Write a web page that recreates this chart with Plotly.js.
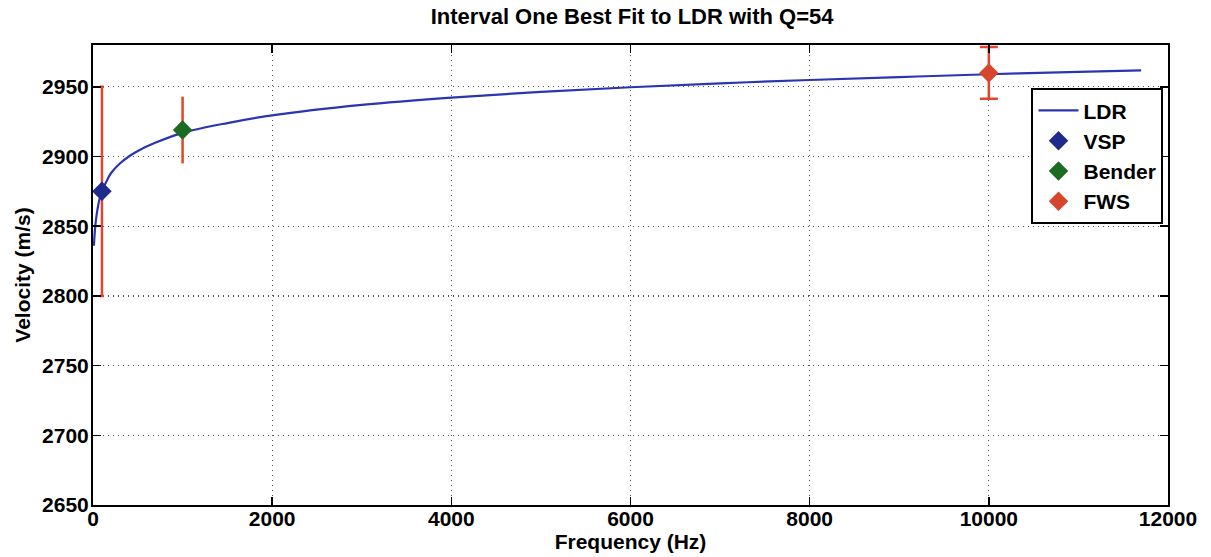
<!DOCTYPE html>
<html>
<head>
<meta charset="utf-8">
<script src="https://cdn.plot.ly/plotly-3.0.1.min.js"></script>
<style>html,body{margin:0;padding:0;background:#fff;}#chart{width:1211px;height:557px;}</style>
</head>
<body>
<div id="chart"></div>
<script>
// LDR best-fit curve
const ldrFreq = [10, 20, 30, 50, 75, 100, 150, 200, 300, 400, 500, 700, 1000, 1500, 2000, 3000, 4000, 5000, 6000, 7000, 8000, 9000, 10000, 11000, 11700];
const ldrVel  = [2836, 2846, 2853, 2862, 2870, 2875, 2882, 2888, 2895, 2900, 2904, 2910, 2917, 2924, 2929.5, 2937, 2942.3, 2946.4, 2949.7, 2952.5, 2954.9, 2957, 2959, 2960.7, 2961.8];

// Measurements
const vspFreq = [100];   const vspVel = [2875];   const vspErr = [75];
const benFreq = [1000];  const benVel = [2919];   const benErr = [24];
const fwsFreq = [10000]; const fwsVel = [2960];   const fwsErr = [18.5];

// Axis ticks
const xTicks = [0, 2000, 4000, 6000, 8000, 10000, 12000];
const yTicks = [2650, 2700, 2750, 2800, 2850, 2900, 2950];

const errColor = '#e2452b';
const fnt = 'Liberation Sans, Arial, sans-serif';

const traces = [
  {x: ldrFreq, y: ldrVel, type: 'scatter', mode: 'lines', name: 'LDR',
   line: {color: '#2a35b0', width: 2.2, shape: 'spline'}},
  {x: vspFreq, y: vspVel, type: 'scatter', mode: 'markers', name: 'VSP',
   marker: {symbol: 'diamond', size: 15, color: '#1f2a8c'},
   error_y: {type: 'data', array: vspErr, visible: true, color: errColor, thickness: 2.5, width: 2}},
  {x: benFreq, y: benVel, type: 'scatter', mode: 'markers', name: 'Bender',
   marker: {symbol: 'diamond', size: 15, color: '#1d6a22'},
   error_y: {type: 'data', array: benErr, visible: true, color: errColor, thickness: 2.5, width: 0}},
  {x: fwsFreq, y: fwsVel, type: 'scatter', mode: 'markers', name: 'FWS',
   marker: {symbol: 'diamond', size: 15, color: '#d5462c'},
   error_y: {type: 'data', array: fwsErr, visible: true, color: errColor, thickness: 2.5, width: 9}}
];

const axisCommon = {
  showline: true, linecolor: '#000', linewidth: 2, mirror: 'ticks',
  ticks: 'inside', ticklen: 8, tickwidth: 1.5, tickcolor: '#000',
  showgrid: true, gridcolor: '#555', griddash: '1px,4px', gridwidth: 1.3,
  zeroline: false, automargin: false,
  tickfont: {family: fnt, size: 21, color: '#000', weight: 'bold'}
};

const layout = {
  width: 1211, height: 557,
  paper_bgcolor: '#fff', plot_bgcolor: '#fff',
  margin: {l: 93, r: 43, t: 45, b: 52},
  title: {text: 'Interval One Best Fit to LDR with Q=54', x: 0.522, xanchor: 'center', y: 0.971, yanchor: 'middle',
          font: {family: fnt, size: 22, color: '#000', weight: 'bold'}},
  xaxis: Object.assign({}, axisCommon, {
    range: [0, 12000], tickvals: xTicks, ticktext: xTicks.map(String),
    ticklabelstandoff: -6,
    title: {text: 'Frequency (Hz)', standoff: 0, font: {family: fnt, size: 21, color: '#000', weight: 'bold'}}
  }),
  yaxis: Object.assign({}, axisCommon, {
    range: [2650, 2980], tickvals: yTicks, ticktext: yTicks.map(String),
    ticklabelstandoff: -2,
    title: {text: 'Velocity (m/s)', standoff: 6, font: {family: fnt, size: 21, color: '#000', weight: 'bold'}}
  }),
  showlegend: true,
  legend: {x: 0.873, y: 0.906, xanchor: 'left', yanchor: 'top',
           bgcolor: '#fff', bordercolor: '#000', borderwidth: 2,
           font: {family: fnt, size: 21, color: '#000', weight: 'bold'},
           tracegroupgap: 0, itemwidth: 40}
};

Plotly.newPlot('chart', traces, layout, {displayModeBar: false, staticPlot: true});
</script>
</body>
</html>
